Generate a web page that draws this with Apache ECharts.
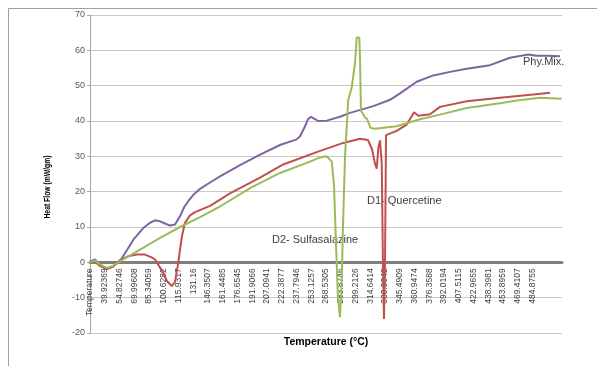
<!DOCTYPE html>
<html><head><meta charset="utf-8">
<script src="https://cdn.jsdelivr.net/npm/echarts@6/dist/echarts.min.js"></script>
<style>html,body{margin:0;padding:0;background:#fff}#c{width:597px;height:366px}</style>
</head><body><div id="c"></div>
<script>
// X tick labels (category positions 0..30)
const xLabels = ["Temperature","39.92369","54.82746","69.99608","85.34059","100.6282","115.9317","131.16","146.3507","161.4485","176.6545","191.9066","207.0941","222.3877","237.7946","253.1257","268.5305","283.8746","299.2126","314.6414","330.0042","345.4909","360.9474","376.3588","392.0194","407.5115","422.9655","438.3981","453.8959","469.4107","484.8755"];

// Series: [position along temperature axis (category index units), heat flow mW/gm]
const phyMix = [[0,0.2],[0.34,0.8],[0.68,-0.8],[1.13,-1.9],[1.56,-1.2],[2.03,0.3],[2.51,3.5],[2.94,6.4],[3.61,9.7],[4.07,11.2],[4.41,11.9],[4.75,11.6],[5.08,11],[5.42,10.4],[5.76,10.7],[6.1,13],[6.37,15.5],[6.66,17.3],[7.05,19.3],[7.46,20.8],[8.14,22.6],[8.81,24.3],[10.17,27.5],[11.53,30.5],[12.88,33.2],[14.01,34.8],[14.24,35.7],[14.58,38.5],[14.78,40.5],[14.98,41.2],[15.19,40.7],[15.48,40],[16.05,40.1],[16.95,41.2],[17.63,42.3],[19.21,44.2],[20.34,46],[21.02,47.8],[22.15,51.1],[23.27,52.9],[24.41,53.9],[25.54,54.8],[27.12,55.8],[28.47,57.9],[29.72,58.8],[30.28,58.5],[31.05,58.5],[31.86,58.3]];

const quercetine = [[0,0],[0.34,0.2],[0.68,-1],[1.13,-1.9],[1.56,-1.2],[2.03,0.6],[2.58,1.7],[3.17,2.2],[3.73,2.2],[4.18,1.4],[4.41,0.8],[4.75,-1.5],[4.97,-3],[5.2,-5.2],[5.54,-6.7],[5.76,-5.6],[5.99,0],[6.1,3.6],[6.24,7.5],[6.44,11.2],[6.78,13.3],[7.12,14.2],[8.14,16],[9.49,19.5],[11.53,24],[13.1,27.7],[15.37,31.2],[17.17,33.8],[18.31,35],[18.85,34.6],[19.12,32],[19.32,28],[19.44,26.5],[19.55,32.5],[19.66,34.5],[19.78,28],[19.86,0],[19.93,-16],[20,0],[20.07,36],[20.79,37.2],[21.47,39],[21.76,41],[21.97,42.5],[22.26,41.5],[23.05,41.9],[23.73,44],[25.54,45.6],[27.8,46.6],[30.05,47.5],[31.19,48]];

const sulfasalazine = [[0,0],[0.34,0.5],[0.68,-0.6],[1.13,-1.6],[1.56,-1],[2.03,0.3],[3.39,3.6],[4.75,6.9],[6.1,10],[7.46,12.8],[8.81,15.8],[10.85,21],[12.88,25.3],[14.92,28.5],[15.59,29.7],[16.05,30],[16.39,28.5],[16.54,22],[16.68,5],[16.81,-10],[16.95,-15.5],[17.07,-5],[17.15,10],[17.29,30],[17.51,46],[17.74,49.4],[17.97,56.5],[18.08,63.6],[18.26,63.6],[18.31,57],[18.37,43],[18.51,42],[18.64,41],[18.78,40.6],[19.03,38],[19.32,37.8],[20.79,38.5],[22.37,40.5],[23.73,41.8],[25.54,43.7],[27.8,45],[28.93,45.8],[30.51,46.6],[31.98,46.3]];

const seriesNames = ["Phy.Mix.","D1- Quercetine","D2- Sulfasalazine"];
const yTicks = {min:-20,max:70,step:10};
const xRange = {min:0,max:32};

const chart = echarts.init(document.getElementById('c'), null, {renderer:'canvas'});
const F = 'Liberation Sans, Arial, sans-serif';
// grid 0: plot area (-20..70); grid 1: same left/right, bottom at the zero line, carries the tick labels
const plotTop = 15, plotBottom = 333;
const zeroY = plotTop + (plotBottom-plotTop)*(yTicks.max-0)/(yTicks.max-yTicks.min);
chart.setOption({
  animation:false,
  backgroundColor:'#fff',
  grid:[
    {left:90,right:35,top:plotTop,bottom:366-plotBottom,containLabel:false,outerBoundsMode:'none'},
    {left:90,right:35,top:plotTop,height:zeroY-plotTop,containLabel:false,outerBoundsMode:'none'}
  ],
  xAxis:[
    {type:'value',gridIndex:0,min:xRange.min,max:xRange.max,interval:1,
      axisLine:{onZero:true,lineStyle:{color:'#7f7f7f',width:3}},
      axisTick:{show:false},splitLine:{show:false},axisLabel:{show:false}},
    {type:'value',gridIndex:1,min:xRange.min,max:xRange.max,interval:1,position:'bottom',
      name:'Temperature (°C)',nameLocation:'middle',nameGap:74,
      nameTextStyle:{fontFamily:F,fontSize:10.5,fontWeight:'bold',color:'#000'},
      axisLine:{show:false,onZero:false},axisTick:{show:false},splitLine:{show:false},
      axisLabel:{rotate:90,fontFamily:F,fontSize:8.5,color:'#404040',margin:6,
        formatter:v=> (xLabels[v]!==undefined? xLabels[v] : '')}}
  ],
  yAxis:[
    {type:'value',gridIndex:0,min:yTicks.min,max:yTicks.max,interval:yTicks.step,
      axisLine:{show:true,lineStyle:{color:'#a6a6a6',width:1}},
      axisTick:{show:true,length:3,lineStyle:{color:'#a6a6a6'}},
      splitLine:{lineStyle:{color:'#c8c8c8',width:1}},
      axisLabel:{fontFamily:F,fontSize:9,color:'#595959',margin:5}},
    {type:'value',gridIndex:1,min:0,max:1,show:false,splitLine:{show:false}}
  ],
  series:[
    {name:seriesNames[0],type:'line',data:phyMix,showSymbol:false,lineStyle:{color:'#8064A2',width:2},itemStyle:{color:'#8064A2'}},
    {name:seriesNames[1],type:'line',data:quercetine,showSymbol:false,lineStyle:{color:'#C0504D',width:2},itemStyle:{color:'#C0504D'}},
    {name:seriesNames[2],type:'line',data:sulfasalazine,showSymbol:false,lineStyle:{color:'#9BBB59',width:2},itemStyle:{color:'#9BBB59'}}
  ],
  graphic:[
    {type:'rect',shape:{x:8.5,y:8.5,width:620,height:400},style:{fill:'none',stroke:'#a0a0a0',lineWidth:1},silent:true,z:-1},
    {type:'text',x:48,y:187,rotation:Math.PI/2,scaleX:0.8,style:{text:'Heat Flow (mW/gm)',font:'bold 8.5px '+F,fill:'#000',align:'center',verticalAlign:'middle'}},
    {type:'text',left:523,top:56,style:{text:seriesNames[0],font:'11px '+F,fill:'#404040'}},
    {type:'text',left:367,top:195,style:{text:seriesNames[1],font:'11px '+F,fill:'#404040'}},
    {type:'text',left:272,top:234,style:{text:seriesNames[2],font:'11px '+F,fill:'#404040'}}
  ]
});
</script></body></html>
